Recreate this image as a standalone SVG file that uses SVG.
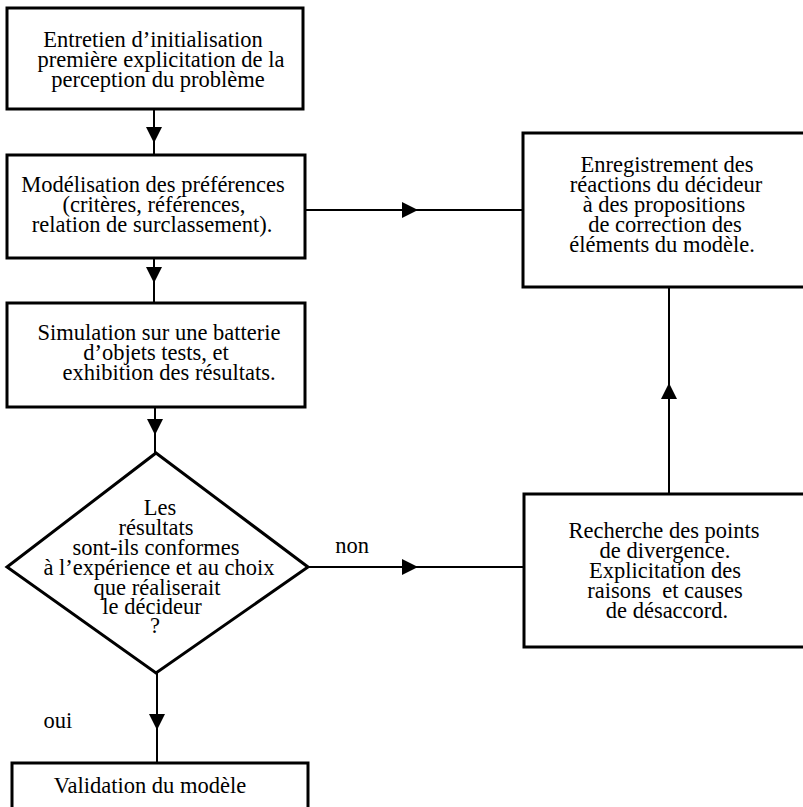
<svg xmlns="http://www.w3.org/2000/svg" width="803" height="807" viewBox="0 0 803 807">
  <style>
    .box { fill: #fff; stroke: #000; stroke-width: 3; }
    .link { fill: none; stroke: #000; stroke-width: 2; marker-mid: url(#arrow); }
    text { font-family: "Liberation Serif", "Times New Roman", serif; font-size: 22.5px; fill: #000; text-anchor: middle; }
  </style>
  <defs>
    <marker id="arrow" markerUnits="userSpaceOnUse" viewBox="0 0 16 16" refX="16" refY="8" markerWidth="16" markerHeight="16" orient="auto">
      <path d="M0,0 L16,8 L0,16 z" fill="#000"/>
    </marker>
  </defs>

  <rect width="803" height="807" fill="#fff"/>

  <!-- flow lines; the arrowhead sits on the middle vertex of each path -->
  <g id="connectors">
    <path class="link" d="M154,110 L154,143 L154,155"/>
    <path class="link" d="M154,258 L154,283 L154,303"/>
    <path class="link" d="M155,407 L155,435 L155,453"/>
    <path class="link" d="M157,673 L157,730 L157,763"/>
    <path class="link" d="M305,210 L418,210 L523,210"/>
    <path class="link" d="M308,567 L418,567 L524,567"/>
    <path class="link" d="M669,494 L669,383 L669,287"/>
  </g>

  <g id="entretien">
    <rect class="box" x="7" y="8" width="296" height="101"/>
    <text x="153" y="47">Entretien d’initialisation</text>
    <text x="161" y="67">première explicitation de la</text>
    <text x="158" y="87">perception du problème</text>
  </g>

  <g id="modelisation">
    <rect class="box" x="7" y="155" width="298" height="103"/>
    <text x="153" y="192">Modélisation des préférences</text>
    <text x="154" y="212">(critères, références,</text>
    <text x="152" y="232">relation de surclassement).</text>
  </g>

  <g id="simulation">
    <rect class="box" x="7" y="303" width="298" height="104"/>
    <text x="159" y="340">Simulation sur une batterie</text>
    <text x="156" y="360">d’objets tests, et</text>
    <text x="169" y="380">exhibition des résultats.</text>
  </g>

  <g id="test">
    <polygon class="box" points="156,453 308,567 156,673 7,567"/>
    <text x="160" y="515">Les</text>
    <text x="156" y="535">résultats</text>
    <text x="156" y="555">sont-ils conformes</text>
    <text x="159" y="575">à l’expérience et au choix</text>
    <text x="157" y="595">que réaliserait</text>
    <text x="152" y="614">le décideur</text>
    <text x="155" y="633">?</text>
  </g>

  <g id="label-non">
    <text x="352" y="553">non</text>
  </g>

  <g id="label-oui">
    <text x="58" y="728">oui</text>
  </g>

  <g id="enregistrement">
    <rect class="box" x="523" y="133" width="300" height="154"/>
    <text x="667" y="172">Enregistrement des</text>
    <text x="666" y="192">réactions du décideur</text>
    <text x="664" y="212">à des propositions</text>
    <text x="665" y="232">de correction des</text>
    <text x="662" y="252">éléments du modèle.</text>
  </g>

  <g id="recherche">
    <rect class="box" x="524" y="494" width="300" height="153"/>
    <text x="664" y="538">Recherche des points</text>
    <text x="665" y="558">de divergence.</text>
    <text x="665" y="578">Explicitation des</text>
    <text x="665" y="598">raisons&#160; et causes</text>
    <text x="667" y="618">de désaccord.</text>
  </g>

  <g id="validation">
    <rect class="box" x="12" y="763" width="296" height="60"/>
    <text x="150" y="793">Validation du modèle</text>
  </g>
</svg>
